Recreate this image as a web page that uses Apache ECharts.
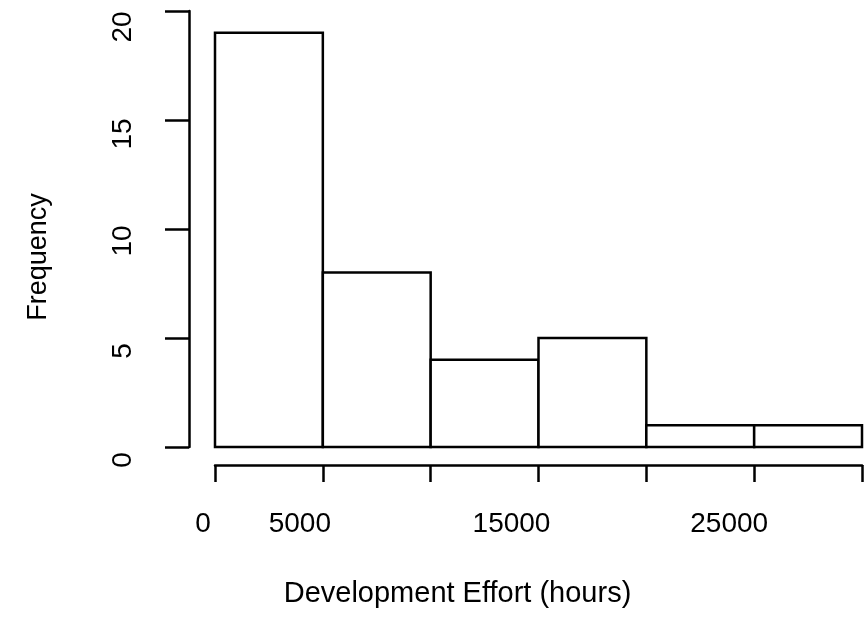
<!DOCTYPE html>
<html><head><meta charset="utf-8">
<script src="https://cdn.jsdelivr.net/npm/echarts@6/dist/echarts.min.js"></script>
<style>html,body{margin:0;padding:0;background:#fff}#c{width:868px;height:621px}</style>
</head><body><div id="c"></div>
<script>
// Histogram data
const binStarts = [0, 5000, 10000, 15000, 20000, 25000];
const binEnds = [5000, 10000, 15000, 20000, 25000, 30000];
const counts = [19, 8, 4, 5, 1, 1];
// Tick labels shown
const xLabelsShown = [0, 5000, 15000, 25000];
const yLabelsShown = [0, 5, 10, 15, 20];
const xTitle = 'Development Effort (hours)';
const yTitle = 'Frequency';

const FONT = '"Liberation Sans", Arial, Helvetica, sans-serif';
const FS = 28;
// label offsets (px) toward text start, mimicking reference
const xShift = {0: 12, 5000: 23, 15000: 27, 25000: 25};
const yShift = {0: 13, 5: 13, 10: 12, 15: 14, 20: 16};

const xRich = {}, yRich = {};
xLabelsShown.forEach(v => { xRich['x' + v] = {fontSize: FS, fontFamily: FONT, color: '#000', padding: [0, 2 * xShift[v], 0, 0]}; });
yLabelsShown.forEach(v => { yRich['y' + v] = {fontSize: FS, fontFamily: FONT, color: '#000', padding: [0, 2 * yShift[v], 0, 0]}; });

const data = counts.map((c, i) => [binStarts[i], binEnds[i], c]);

const chart = echarts.init(document.getElementById('c'), null, {renderer: 'canvas'});
chart.setOption({
  animation: false,
  backgroundColor: '#fff',
  grid: {left: 215, right: 6, top: 11, bottom: 174, containLabel: false},
  xAxis: {
    type: 'value', min: 0, max: 30000, interval: 5000,
    offset: 18,
    splitLine: {show: false},
    axisLine: {show: true, onZero: false, lineStyle: {color: '#000', width: 2.5}},
    axisTick: {show: true, length: 17, lineStyle: {color: '#000', width: 2.5}},
    axisLabel: {
      margin: 45, fontSize: FS, fontFamily: FONT, color: '#000',
      showMinLabel: true, showMaxLabel: true, hideOverlap: false,
      formatter: v => xLabelsShown.includes(v) ? '{x' + v + '|' + v + '}' : '',
      rich: xRich
    },
    name: '{t|' + xTitle + '}', nameLocation: 'middle', nameGap: 114,
    nameTextStyle: {rich: {t: {fontSize: 29, fontFamily: FONT, color: '#000', padding: [0, 162, 0, 0]}}}
  },
  yAxis: {
    type: 'value', min: 0, max: 20, interval: 5,
    offset: 26,
    splitLine: {show: false},
    axisLine: {show: true, onZero: false, lineStyle: {color: '#000', width: 2.5}},
    axisTick: {show: true, length: 24, lineStyle: {color: '#000', width: 2.5}},
    axisLabel: {
      rotate: 90, margin: 52, fontSize: FS, fontFamily: FONT, color: '#000',
      showMinLabel: true, showMaxLabel: true,
      formatter: v => yLabelsShown.includes(v) ? '{y' + v + '|' + v + '}' : '',
      rich: yRich
    },
    name: '{t|' + yTitle + '}', nameLocation: 'middle', nameGap: 137, nameRotate: 90,
    nameTextStyle: {rich: {t: {fontSize: 27, fontFamily: FONT, color: '#000', padding: [0, 56, 0, 0]}}}
  },
  series: [{
    type: 'custom',
    data: data,
    encode: {x: [0, 1], y: 2},
    renderItem: function (params, api) {
      const p0 = api.coord([api.value(0), api.value(2)]);
      const p1 = api.coord([api.value(1), 0]);
      return {
        type: 'rect',
        shape: {x: p0[0], y: p0[1], width: p1[0] - p0[0], height: p1[1] - p0[1]},
        style: {fill: '#fff', stroke: '#000', lineWidth: 2.5}
      };
    }
  }]
});
</script></body></html>
